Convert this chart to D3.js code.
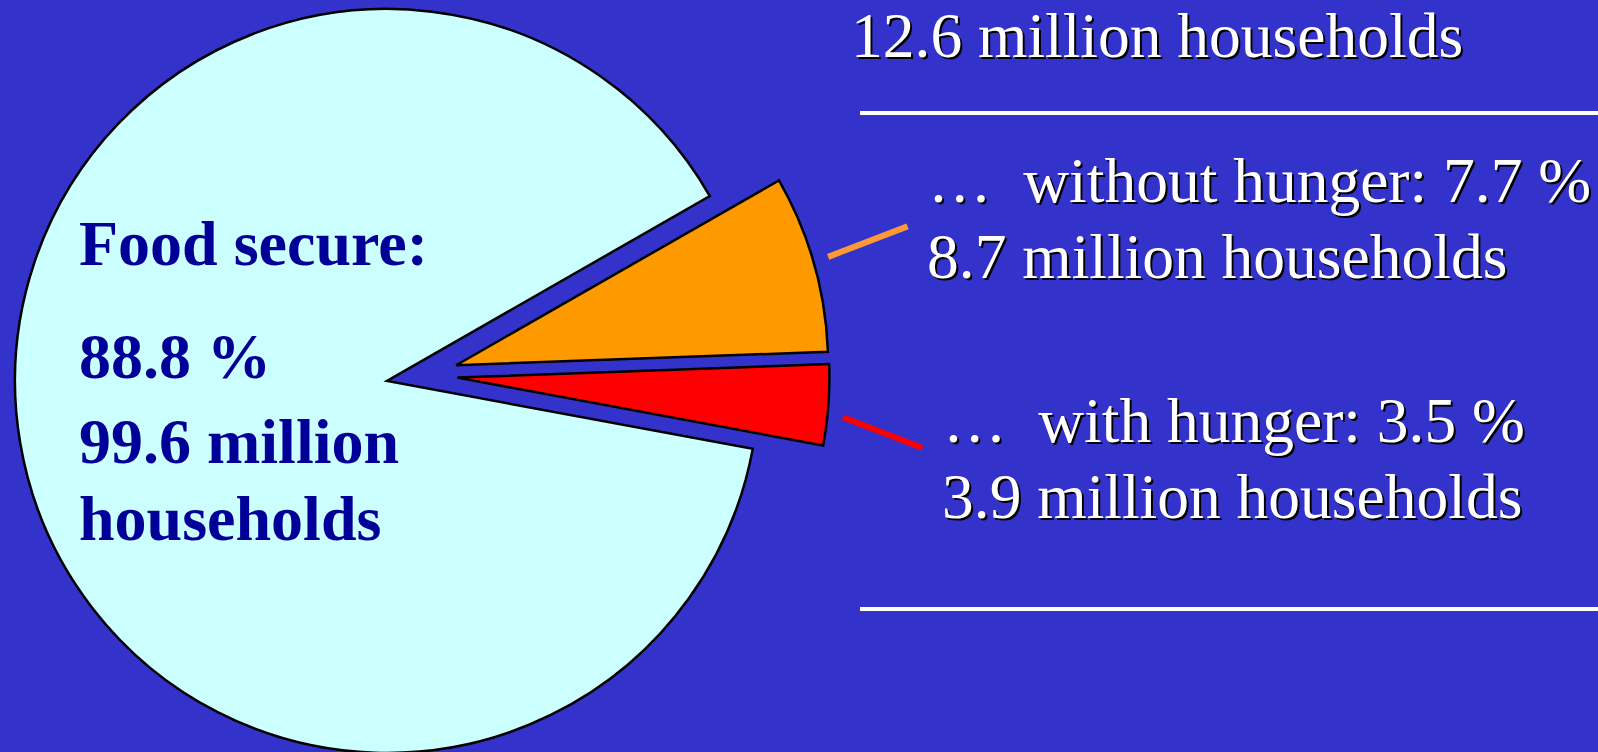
<!DOCTYPE html>
<html>
<head>
<meta charset="utf-8">
<script src="https://cdn.jsdelivr.net/npm/d3@7"></script>
<style>
  html, body { margin: 0; padding: 0; background: #3333cc; overflow: hidden; }
  svg { display: block; }
  text { white-space: pre; }
</style>
</head>
<body>
<script>
// ---- data ----
const categories = ["without hunger", "with hunger", "Food secure"];
const percentValues = [7.7, 3.5, 88.8];
const householdsMillions = [8.7, 3.9, 99.6];
const insecureTotalMillions = 12.6;
const sliceColors = ["#ff9900", "#ff0000", "#ccffff"];
const leaderColors = ["#ff9933", "#ff0000", null];

// ---- layout / style ----
const W = 1598, H = 752;
const cx = 422, cy = 375, R = 372, explode = 35.5;
const startDeg = 60.2;
const serif = "'Liberation Serif', 'Times New Roman', Times, serif";
const fontSize = 63.5;

const svg = d3.select("body").append("svg")
  .attr("width", W).attr("height", H);

svg.append("rect").attr("width", W).attr("height", H).attr("fill", "#3333cc");

const pie = d3.pie().sort(null).value(d => d.value)
  .startAngle(startDeg * Math.PI / 180)
  .endAngle(startDeg * Math.PI / 180 + 2 * Math.PI);

const data = categories.map((c, i) => ({
  name: c, value: percentValues[i], households: householdsMillions[i],
  color: sliceColors[i], leader: leaderColors[i]
}));
const arcs = pie(data);
const arc = d3.arc().innerRadius(0).outerRadius(R);

const pieG = svg.append("g").attr("transform", `translate(${cx},${cy})`);
pieG.selectAll("path").data(arcs).join("path")
  .attr("d", arc)
  .attr("fill", d => d.data.color)
  .attr("stroke", "#000")
  .attr("stroke-width", 2.5)
  .attr("stroke-linejoin", "miter")
  .attr("transform", d => {
    const m = (d.startAngle + d.endAngle) / 2;
    return `translate(${explode * Math.sin(m)},${-explode * Math.cos(m)})`;
  });

// leader lines for the two small slices
const leaderAnchor = [0.49, 0.62];
const leaderTilt = [-21, 21];
const leaderR = 423, leaderLen = 85;
arcs.slice(0, 2).forEach((d, i) => {
  const a = d.startAngle + leaderAnchor[i] * (d.endAngle - d.startAngle);
  const x1 = cx + leaderR * Math.sin(a), y1 = cy - leaderR * Math.cos(a);
  const t = leaderTilt[i] * Math.PI / 180;
  svg.append("line")
    .attr("x1", x1).attr("y1", y1)
    .attr("x2", x1 + leaderLen * Math.cos(t)).attr("y2", y1 + leaderLen * Math.sin(t))
    .attr("stroke", d.data.leader).attr("stroke-width", 6);
});

// white separator lines
[113, 609].forEach(y => {
  svg.append("line").attr("x1", 860).attr("x2", W).attr("y1", y).attr("y2", y)
    .attr("stroke", "#ffffff").attr("stroke-width", 4);
});

// shadowed white labels
function shadowText(str, x, y) {
  svg.append("text").attr("x", x + 2).attr("y", y + 2).text(str)
    .attr("font-family", serif).attr("font-size", fontSize).attr("fill", "#000");
  svg.append("text").attr("x", x).attr("y", y).text(str)
    .attr("font-family", serif).attr("font-size", fontSize).attr("fill", "#ffffff");
}
shadowText(`${insecureTotalMillions} million households`, 851, 57);
shadowText(`\u2026  ${categories[0]}: ${percentValues[0]} %`, 928, 202);
shadowText(`${householdsMillions[0]} million households`, 927, 278);
shadowText(`\u2026  ${categories[1]}: ${percentValues[1]} %`, 943, 442);
shadowText(`${householdsMillions[1]} million households`, 942, 518);

// food secure label
const leftLines = [
  [`${categories[2]}:`, 265],
  [`${percentValues[2]} %`, 378],
  [`${householdsMillions[2]} million`, 463],
  ["households", 540]
];
leftLines.forEach(([s, y]) => {
  svg.append("text").attr("x", 79).attr("y", y).text(s)
    .attr("font-family", serif).attr("font-size", 64).attr("font-weight", "bold")
    .attr("fill", "#000099");
});
</script>
</body>
</html>
